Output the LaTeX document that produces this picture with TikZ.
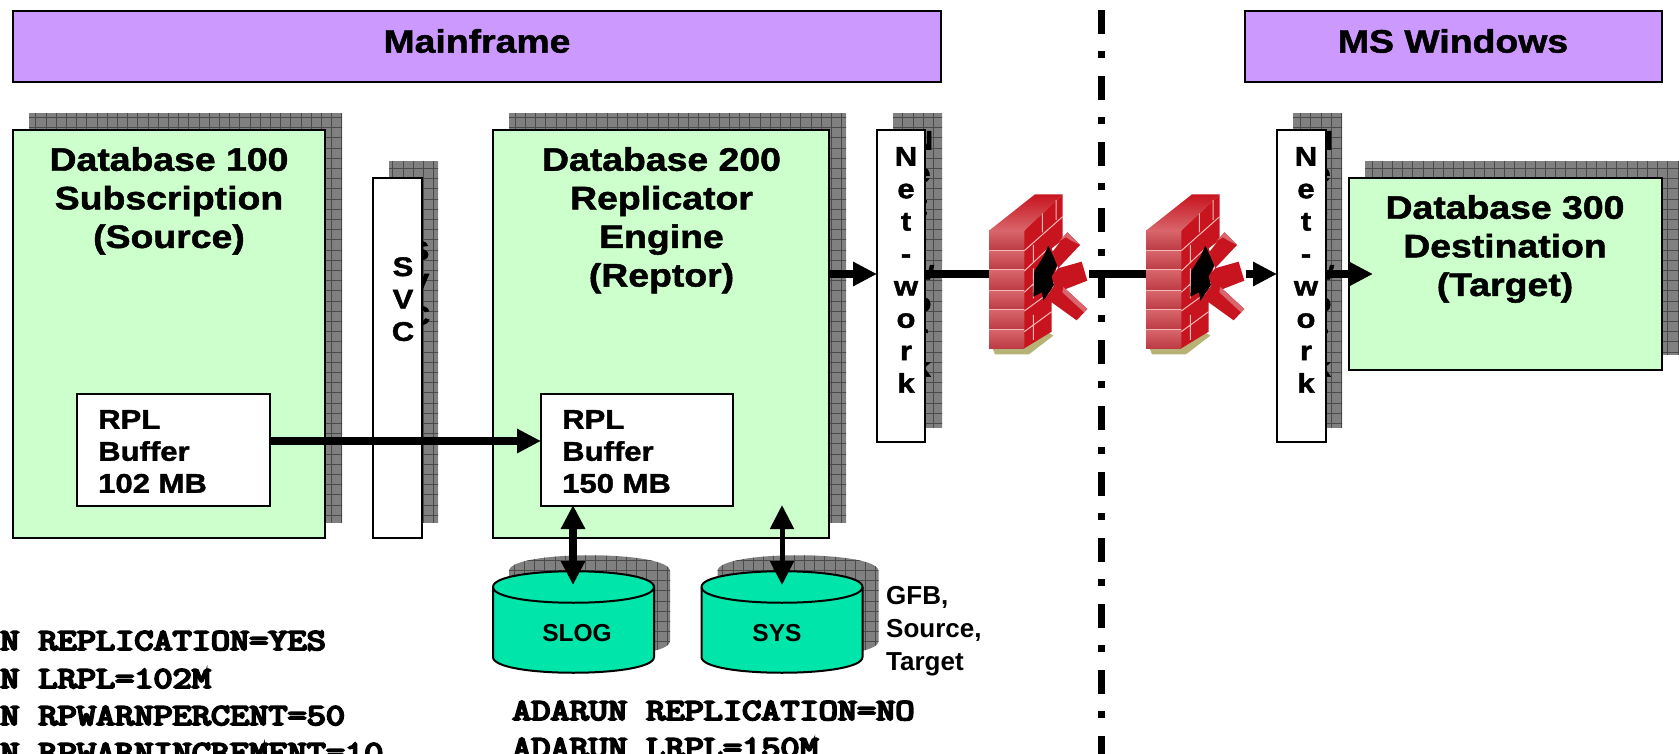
\documentclass[tikz,border=0pt]{standalone}
\usepackage{fontspec}
\usetikzlibrary{arrows.meta}
\newfontfamily\hdfont[FakeStretch=1.15,FakeBold=1.5]{Liberation Sans}
\newfontfamily\plainsans{Liberation Sans}
\newfontfamily\monob[FakeBold=6]{Latin Modern Mono}
\definecolor{hdr}{HTML}{CC99FF}
\definecolor{dbg}{HTML}{CCFFCC}
\definecolor{cylg}{HTML}{00E5AA}
\definecolor{shg}{HTML}{808080}
\definecolor{shl}{HTML}{4A4A4A}
\definecolor{fwa}{HTML}{D9666C}
\definecolor{fwb}{HTML}{BC3A44}
\definecolor{fwd}{HTML}{C8141F}
\definecolor{fwm}{HTML}{F3B9B6}
\tikzset{
  boxbase/.style={draw=black,line width=2pt,inner sep=0pt,outer sep=0pt,anchor=north west},
  hdrbox/.style={boxbase,fill=hdr,minimum height=71pt},
  dbbox/.style={boxbase,fill=dbg},
  whbox/.style={boxbase,fill=white},
  ttl/.style={font=\hdfont\bfseries\fontsize{32.5}{38.6}\selectfont,align=center,inner sep=0pt},
  small/.style={font=\hdfont\bfseries\fontsize{27}{32}\selectfont,align=left,inner sep=0pt,anchor=north west},
  vert/.style={font=\hdfont\bfseries\fontsize{27}{32.4}\selectfont,align=center,inner sep=0pt,anchor=north},
  cyltxt/.style={font=\plainsans\bfseries\fontsize{24.5}{33}\selectfont,inner sep=0pt},
  mono/.style={font=\monob\fontsize{37.2}{38}\selectfont,inner sep=0pt,anchor=base west},
  flow/.style={line width=8pt,draw=black},
  flowh/.style={flow,-{Triangle[length=24pt,width=23pt]}},
  flowd/.style={flow,{Triangle[length=24pt,width=23pt]}-{Triangle[length=24pt,width=23pt]}},
  flowt/.style={line width=5pt,draw=black,{Triangle[length=24pt,width=23pt]}-{Triangle[length=24pt,width=23pt]}}
}
\newcommand\msq[1]{\scalebox{1}[0.82]{#1}}
\newcommand\shd[1]{%
  \begin{scope}
    \clip #1;
    \fill[shg] (-50,-50) rectangle (1800,800);
    \foreach \i in {0,...,180} {\draw[shl,line width=0.8pt] ({\i*10.2-5},-50) -- ({\i*10.2-5},800);}
    \foreach \i in {0,...,85} {\draw[shl,line width=0.8pt] (-50,{\i*10.2-5}) -- (1800,{\i*10.2-5});}
  \end{scope}}
\newcommand\cylp{(0,16) -- (0,86) .. controls (0,107) and (161,107) .. (161,86) -- (161,16) .. controls (161,-5) and (0,-5) .. (0,16) -- cycle}
\newcommand\fwall{%
  \fill[white] (27,25) rectangle (327,510);
  \fill[black!30!olive!50!white] (38,490) -- (45,508) -- (147,508) -- (220,452) -- (200,440) -- cycle;
  \shade[top color=fwd,bottom color=fwa] (27,137) -- (165,28) -- (248,28) -- (133,137) -- cycle;
  \foreach \a/\b in {137/197,197/255,255/317,317/374,374/434,434/490}
    {\shade[top color=fwa,bottom color=fwb] (27,\a) rectangle (133,\b);}
  \foreach \a in {197,255,317,374,434}
    {\draw[fwm,line width=1pt] (27,\a) -- (133,\a);}
  \fill[fwd] (133,137) -- (248,28) -- (248,165) -- (215,190) -- (232,240) -- (215,300) -- (215,440) -- (133,490) -- cycle;
  \draw[fwm,line width=1pt] (133,197) -- (248,95) (133,258) -- (205,190) (133,322) -- (165,292)
    (133,378) -- (215,318) (133,440) -- (215,380)
    (187,85) -- (187,142) (228,45) -- (228,105) (160,180) -- (160,232) (160,250) -- (160,340) (160,390) -- (160,465);
  \fill[black] (205,182) -- (232,240) -- (215,275) -- (222,300) -- (190,348) -- (186,322) -- (160,335) -- (163,258) -- (190,215) -- cycle;
  \fill[fwd] (218,200) -- (262,142) -- (300,180) -- (234,250) -- cycle;
  \fill[fwa] (238,168) -- (262,142) -- (300,180) -- (276,168) -- (258,157) -- cycle;
  \fill[fwd] (234,250) -- (305,230) -- (322,287) -- (232,322) -- (222,300) -- (216,275) -- cycle;
  \fill[fwd] (190,350) -- (222,302) -- (250,306) -- (322,372) -- (290,406) -- (215,352) -- cycle;
  \fill[fwa] (250,306) -- (322,372) -- (312,382) -- (247,322) -- cycle;
}
\newcommand\netwd{N\\e\\t\\-\\w\\o\\r\\k}
\begin{document}
\begin{tikzpicture}[x=1pt,y=-1pt]
\useasboundingbox (0,0) rectangle (1679,754);
\begin{scope}
\clip (0,0) rectangle (1679,754);
% shadows
\shd{(29,114) rectangle (342,522)}
\shd{(389,162) rectangle (438,522)}
\shd{(509,114) rectangle (846,522)}
\shd{(893,114) rectangle (942,427)}
\shd{(1293,114) rectangle (1342,427)}
\shd{(1365,162) rectangle (1679,354)}
\begin{scope}[shift={(509,555)}]\shd{\cylp}\end{scope}
\begin{scope}[shift={(717.5,555)}]\shd{\cylp}\end{scope}
% ghost letters
\node[vert] (ghsvc) at (419,241) {S\\V\\C};
\node[vert] (ghnet1) at (922,131) {\netwd};
\node[vert] (ghnet2) at (1322,131) {\netwd};
% headers
\node[hdrbox,minimum width=928pt] (hmain) at (13,11) {};
\node[hdrbox,minimum width=417pt] (hwin) at (1245,11) {};
\node[ttl] (tmain) at (477,41) {Mainframe};
\node[ttl] (twin) at (1453,41) {MS Windows};
% boxes
\node[dbbox,minimum width=312pt,minimum height=408pt] (db100) at (13,130) {};
\node[whbox,minimum width=48.5pt,minimum height=360pt] (svc) at (373,178) {};
\node[dbbox,minimum width=336pt,minimum height=408pt] (db200) at (493,130) {};
\node[whbox,minimum width=48pt,minimum height=312pt] (net1) at (877,130) {};
\node[whbox,minimum width=49pt,minimum height=312pt] (net2) at (1277,130) {};
\node[dbbox,minimum width=313pt,minimum height=192pt] (db300) at (1349,178) {};
\node[whbox,minimum width=193pt,minimum height=112pt] (buf1) at (77,394) {};
\node[whbox,minimum width=192pt,minimum height=112pt] (buf2) at (541,394) {};
% titles
\node[ttl,anchor=north] (t100) at (169,147) {Database 100\\Subscription\\(Source)};
\node[ttl,anchor=north] (t200) at (661.5,147) {Database 200\\Replicator\\Engine\\(Reptor)};
\node[ttl,anchor=north] (t300) at (1505,195) {Database 300\\Destination\\(Target)};
\node[small] (l1) at (98,410) {RPL\\Buffer\\102 MB};
\node[small] (l2) at (562,410) {RPL\\Buffer\\150 MB};
\node[vert] (lsvc) at (403,257) {S\\V\\C};
\node[vert] (lnet1) at (906,147) {\netwd};
\node[vert] (lnet2) at (1306,147) {\netwd};
% cylinders
\begin{scope}[shift={(493,571)}]
  \draw[fill=cylg,line width=2pt] \cylp;
  \draw[line width=2pt] (0,16) .. controls (0,37) and (161,37) .. (161,16);
\end{scope}
\begin{scope}[shift={(701.5,571)}]
  \draw[fill=cylg,line width=2pt] \cylp;
  \draw[line width=2pt] (0,16) .. controls (0,37) and (161,37) .. (161,16);
\end{scope}
\node[cyltxt] (slog) at (577,633) {SLOG};
\node[cyltxt] (sys) at (777,633) {SYS};
\node[cyltxt,font=\plainsans\bfseries\fontsize{26}{33}\selectfont,align=left,anchor=north west] (gfb) at (886,586) {GFB,\\Source,\\Target};
% mono text
\node[mono] (m1) at (0,650) {\msq{N REPLICATION=YES}};
\node[mono] (m2) at (0,688) {\msq{N LRPL=102M}};
\node[mono] (m3) at (0,725) {\msq{N RPWARNPERCENT=50}};
\node[mono] (m4) at (0,762) {\msq{N RPWARNINCREMENT=10}};
\node[mono] (m5) at (512,720) {\msq{ADARUN REPLICATION=NO}};
\node[mono] (m6) at (512,757) {\msq{ADARUN LRPL=150M}};
% dash-dot separator
\coordinate (septop) at (1101,10);
\coordinate (sepbot) at (1101,754);
\draw[line width=7pt,dash pattern=on 24pt off 17pt on 7pt off 18pt] (septop) -- (sepbot);
% connectors
\coordinate (flowy) at (0,274);
\coordinate (fw1) at (1038,274);
\coordinate (fw2) at (1195,274);
\coordinate (db3in) at (1373,274);
\coordinate (bufy) at (0,441);
\coordinate (arrowtop) at (573,505);
\coordinate (arrowslog) at (573,585);
\coordinate (systop) at (782,505);
\coordinate (arrowsys) at (782,585);
\draw[flowh] (buf1.east |- bufy) -- (buf2.west |- bufy);
\draw[flowd] (arrowtop) -- (arrowslog);
\draw[flowt] (systop) -- (arrowsys);
\draw[flowh] (db200.east |- flowy) -- (net1.west |- flowy);
\draw[flow] (net1.east |- flowy) -- (fw1);
\draw[flow] (fw1) -- (fw2);
\draw[flowh] (fw2) -- (net2.west |- flowy);
\draw[flowh] (net2.east |- flowy) -- (db3in);
% firewalls
\begin{scope}[shift={(980,185)},x=0.3333pt,y=-0.3333pt]\fwall\end{scope}
\begin{scope}[shift={(1137,185)},x=0.3333pt,y=-0.3333pt]\fwall\end{scope}
\end{scope}
\end{tikzpicture}
\end{document}
